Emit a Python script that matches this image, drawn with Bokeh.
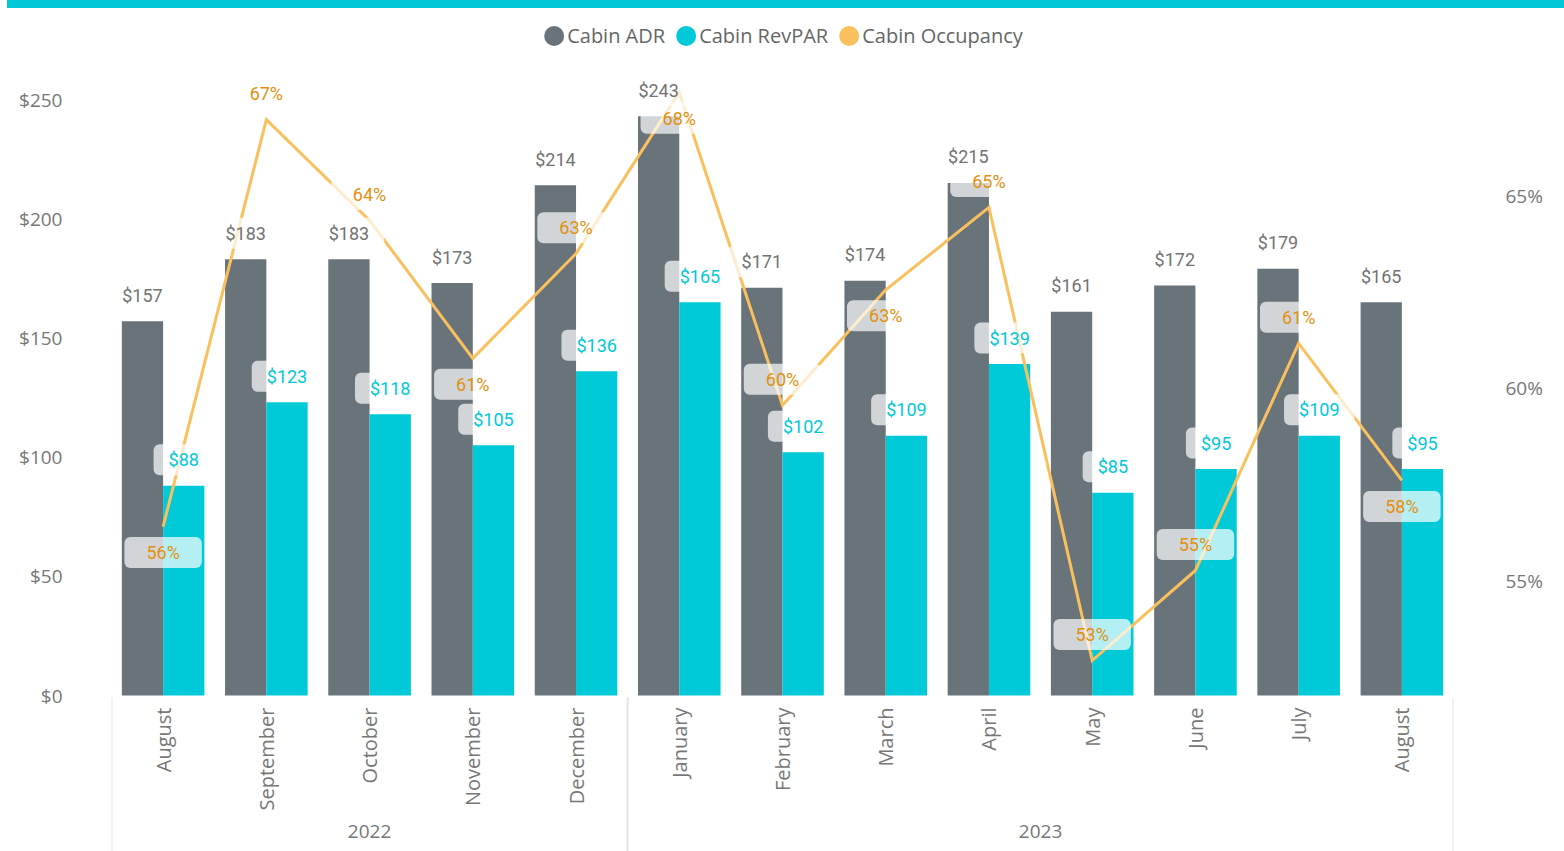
import math
from bokeh.plotting import figure
from bokeh.models import (ColumnDataSource, FactorRange, Range1d, LinearAxis, FixedTicker,
                          NumeralTickFormatter, PrintfTickFormatter, Legend, LegendItem, Div)
from bokeh.layouts import column
from bokeh.transform import dodge
from bokeh.core.properties import value
from bokeh.embed import file_html
from bokeh.resources import INLINE

# ---------------- data ----------------
years = ["2022"] * 5 + ["2023"] * 8
months = ["August", "September", "October", "November", "December",
          "January", "February", "March", "April", "May", "June", "July", "August"]
cabin_adr = [157, 183, 183, 173, 214, 243, 171, 174, 215, 161, 172, 179, 165]
cabin_revpar = [88, 123, 118, 105, 136, 165, 102, 109, 139, 85, 95, 109, 95]
cabin_occupancy = [56.4, 66.97, 64.35, 60.77, 63.49, 67.68, 59.55, 62.55, 64.69, 52.92, 55.26, 61.16, 57.6]
occ_label_side = [1, -1, -1, 1, -1, 1, -1, 1, -1, -1, -1, -1, 1]   # +1 label below point, -1 above
left_ticks = [0, 50, 100, 150, 200, 250]
right_ticks = [55, 60, 65]
series_names = ["Cabin ADR", "Cabin RevPAR", "Cabin Occupancy"]

# ---------------- style ----------------
C_ADR = "#68747a"
C_REV = "#00c9d8"
C_OCC = "#fac05e"
C_OCC_TXT = "#e2900e"
C_LBL = "#737373"
C_AXIS = "#777777"
LBL_FONT = "Roboto"
AX_FONT = "Open Sans"

W, H = 1564, 843
BORDER = 111
Y0_PX = 687          # pixel row (figure coords) of $0
PX_PER_DOLLAR = 2.384
P55_PX = 572         # pixel row of 55%
PX_PER_PCT = 38.5

factors = list(zip(years, months))
x_range = FactorRange(factors=factors, range_padding=0, group_padding=0, factor_padding=0)
y_range = Range1d(-(H - Y0_PX) / PX_PER_DOLLAR, Y0_PX / PX_PER_DOLLAR)
occ_range = Range1d(55 - (H - P55_PX) / PX_PER_PCT, 55 + P55_PX / PX_PER_PCT)

p = figure(width=W, height=H, x_range=x_range, y_range=y_range,
           output_backend="svg", toolbar_location=None,
           min_border_left=BORDER, min_border_right=BORDER, min_border_top=0, min_border_bottom=0,
           outline_line_color=None)
p.extra_y_ranges = {"occ": occ_range}
p.xgrid.visible = False
p.ygrid.visible = False

src = ColumnDataSource(dict(
    x=factors,
    adr=cabin_adr,
    rev=cabin_revpar,
    occ=cabin_occupancy,
    adr_txt=[f"${v}" for v in cabin_adr],
    rev_txt=[f"${v}" for v in cabin_revpar],
    occ_txt=[f"{round(v)}%" for v in cabin_occupancy],
    occ_off=[26 * s for s in occ_label_side],
))

# group separators (start of each year group and end of last)
sep_x = []
for i, (yr, mo) in enumerate(factors):
    if i == 0 or yr != years[i - 1]:
        sep_x.append((yr, mo, -0.5))
sep_x.append((years[-1], months[-1], 0.5))
sep_src = ColumnDataSource(dict(x=sep_x))
p.segment(x0="x", x1="x", y0=-0.8, y1=-90, source=sep_src, line_color="#e6e6e6", line_width=2)

# bars
p.vbar(x=dodge("x", -0.2, range=x_range), top="adr", width=0.4, source=src,
       fill_color=C_ADR, line_color=None)
p.vbar(x=dodge("x", 0.2, range=x_range), top="rev", width=0.4, source=src,
       fill_color=C_REV, line_color=None)

# occupancy line
p.line(x="x", y="occ", y_range_name="occ", source=src, line_color=C_OCC,
       line_width=3, line_join="miter")

# data labels
box_kw = dict(background_fill_color="white", background_fill_alpha=0.7, border_radius=6)
p.text(x=dodge("x", -0.2, range=x_range), y="adr", text="adr_txt", source=src,
       text_align="center", text_baseline="middle", y_offset=-26,
       text_font=value(LBL_FONT), text_font_size="18px", text_color=C_LBL,
       padding=dict(left=15, right=15, top=5, bottom=5), **box_kw)
p.text(x=dodge("x", 0.2, range=x_range), y="rev", text="rev_txt", source=src,
       text_align="center", text_baseline="middle", y_offset=-26,
       text_font=value(LBL_FONT), text_font_size="18px", text_color=C_REV,
       padding=dict(left=15, right=15, top=5, bottom=5), **box_kw)
p.text(x="x", y="occ", text="occ_txt", source=src, y_range_name="occ",
       text_align="center", text_baseline="middle", y_offset="occ_off",
       text_font=value(LBL_FONT), text_font_size="18px", text_color=C_OCC_TXT,
       padding=dict(left=22, right=22, top=5, bottom=5), **box_kw)

# axes
xa = p.xaxis[0]
xa.fixed_location = 0
xa.axis_line_color = None
xa.major_tick_line_color = None
xa.minor_tick_line_color = None
xa.major_tick_out = 0
xa.major_tick_in = 0
xa.separator_line_color = None
xa.major_label_orientation = math.pi / 2
xa.major_label_standoff = 12
xa.major_label_text_font = AX_FONT
xa.major_label_text_font_size = "20px"
xa.major_label_text_color = C_AXIS
xa.group_text_font = AX_FONT
xa.group_text_font_size = "19px"
xa.group_text_color = C_AXIS
xa.group_text_font_style = "normal"

ya = p.yaxis[0]
ya.ticker = FixedTicker(ticks=left_ticks)
ya.formatter = NumeralTickFormatter(format="$0")
ya.axis_line_color = None
ya.major_tick_line_color = None
ya.minor_tick_line_color = None
ya.major_tick_out = 0
ya.major_tick_in = 0
ya.major_label_standoff = 49
ya.major_label_text_font = AX_FONT
ya.major_label_text_font_size = "19px"
ya.major_label_text_color = C_AXIS

ra = LinearAxis(y_range_name="occ", ticker=FixedTicker(ticks=right_ticks),
                formatter=PrintfTickFormatter(format="%d%%"))
ra.axis_line_color = None
ra.major_tick_line_color = None
ra.minor_tick_line_color = None
ra.major_tick_out = 0
ra.major_tick_in = 0
ra.major_label_standoff = 52
ra.major_label_text_font = AX_FONT
ra.major_label_text_font_size = "19px"
ra.major_label_text_color = C_AXIS
p.add_layout(ra, "right")

# legend: screen-sized ellipses (hidden point) give round swatches
legend_items = []
for name, col in zip(series_names, [C_ADR, C_REV, C_OCC]):
    r = p.ellipse(x=[factors[0]], y=[float("nan")], width=20, height=20,
                  width_units="screen", height_units="screen",
                  fill_color=col, line_color=None)
    legend_items.append(LegendItem(label=name, renderers=[r]))
legend = Legend(items=legend_items,
                orientation="horizontal", location="top_center", margin=14, padding=0,
                spacing=8, label_standoff=1, glyph_width=25, glyph_height=25,
                border_line_color=None, background_fill_alpha=0,
                label_text_font=AX_FONT, label_text_font_size="20px",
                label_text_color="#666666")
p.add_layout(legend)

band = Div(text="", width=W - 7, height=8, margin=(0, 0, 0, 7),
           styles={"background-color": "#00c8d7"})
layout = column(band, p, spacing=0)

open("out.html", "w").write(file_html(layout, INLINE))
